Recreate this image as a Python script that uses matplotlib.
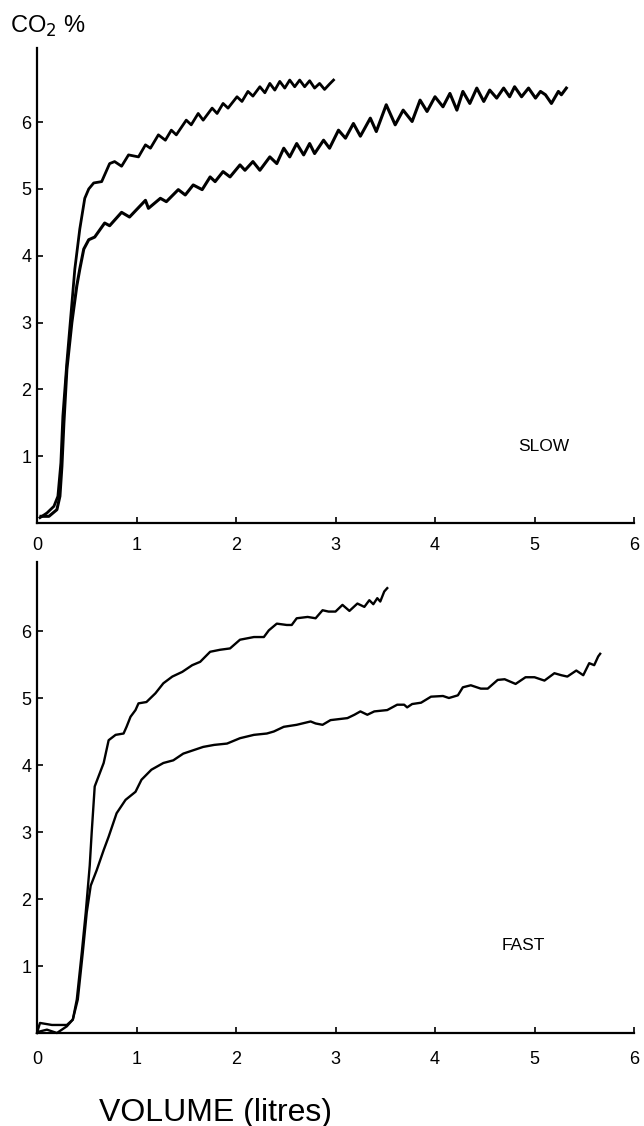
import matplotlib
matplotlib.use("Agg")
import matplotlib.pyplot as plt

plt.rcParams['font.family'] = ['Liberation Sans', 'DejaVu Sans']

# SLOW panel, upper (shorter) trace
slow_a_x = [0.03, 0.10, 0.17, 0.21, 0.24, 0.26, 0.30, 0.34, 0.38, 0.43, 0.48, 0.52, 0.57, 0.65,
            0.73, 0.78, 0.85, 0.92, 1.02, 1.09, 1.14, 1.22, 1.29, 1.35, 1.40, 1.50, 1.55, 1.62,
            1.67, 1.76, 1.81, 1.87, 1.92, 2.01, 2.06, 2.12, 2.17, 2.24, 2.29, 2.34, 2.39, 2.44,
            2.49, 2.54, 2.59, 2.64, 2.69, 2.74, 2.79, 2.84, 2.89, 2.94, 2.98]
slow_a_y = [0.08, 0.15, 0.25, 0.40, 0.90, 1.60, 2.40, 3.10, 3.80, 4.40, 4.86, 5.00, 5.09, 5.11,
            5.38, 5.41, 5.34, 5.51, 5.48, 5.66, 5.61, 5.81, 5.73, 5.88, 5.81, 6.03, 5.96, 6.13,
            6.03, 6.21, 6.13, 6.28, 6.21, 6.38, 6.31, 6.46, 6.39, 6.53, 6.44, 6.58, 6.48, 6.61,
            6.51, 6.63, 6.53, 6.63, 6.53, 6.62, 6.51, 6.58, 6.49, 6.57, 6.63]

# SLOW panel, lower (longer) trace
slow_b_x = [0.04, 0.12, 0.20, 0.23, 0.25, 0.27, 0.30, 0.35, 0.40, 0.43, 0.47, 0.52, 0.58, 0.68,
            0.73, 0.85, 0.93, 1.09, 1.12, 1.24, 1.30, 1.42, 1.49, 1.57, 1.66, 1.74, 1.79, 1.87,
            1.94, 2.04, 2.09, 2.17, 2.24, 2.34, 2.41, 2.48, 2.54, 2.61, 2.68, 2.74, 2.79, 2.88,
            2.94, 3.03, 3.10, 3.18, 3.25, 3.35, 3.41, 3.51, 3.60, 3.68, 3.77, 3.85, 3.92, 4.00,
            4.08, 4.15, 4.22, 4.28, 4.35, 4.42, 4.49, 4.55, 4.62, 4.69, 4.75, 4.80, 4.87, 4.94,
            5.01, 5.06, 5.11, 5.17, 5.24, 5.27, 5.32]
slow_b_y = [0.10, 0.10, 0.20, 0.40, 0.85, 1.50, 2.30, 3.00, 3.55, 3.80, 4.10, 4.24, 4.28, 4.49,
            4.45, 4.65, 4.58, 4.83, 4.71, 4.86, 4.81, 4.99, 4.91, 5.06, 4.99, 5.18, 5.11, 5.26,
            5.18, 5.36, 5.28, 5.41, 5.28, 5.48, 5.38, 5.61, 5.48, 5.68, 5.51, 5.68, 5.53, 5.73,
            5.61, 5.88, 5.76, 5.98, 5.79, 6.06, 5.86, 6.26, 5.96, 6.18, 6.01, 6.33, 6.16, 6.38,
            6.23, 6.43, 6.18, 6.46, 6.28, 6.51, 6.31, 6.48, 6.36, 6.51, 6.38, 6.53, 6.38, 6.51,
            6.36, 6.46, 6.41, 6.28, 6.46, 6.41, 6.51]

# FAST panel, upper (shorter) trace
fast_a_x = [0.00, 0.03, 0.15, 0.30, 0.36, 0.40, 0.45, 0.49, 0.53, 0.55, 0.58, 0.67, 0.72, 0.79,
            0.87, 0.90, 0.94, 0.99, 1.02, 1.10, 1.19, 1.27, 1.36, 1.46, 1.56, 1.64, 1.74, 1.84,
            1.94, 2.04, 2.18, 2.28, 2.33, 2.41, 2.51, 2.56, 2.61, 2.72, 2.80, 2.87, 2.93, 3.00,
            3.07, 3.14, 3.22, 3.29, 3.34, 3.38, 3.42, 3.45, 3.49, 3.52]
fast_a_y = [0.00, 0.15, 0.12, 0.12, 0.20, 0.50, 1.20, 1.80, 2.50, 3.00, 3.68, 4.03, 4.37, 4.45,
            4.47, 4.57, 4.72, 4.82, 4.92, 4.94, 5.07, 5.22, 5.32, 5.39, 5.49, 5.54, 5.69, 5.72,
            5.74, 5.87, 5.91, 5.91, 6.01, 6.11, 6.09, 6.09, 6.19, 6.21, 6.19, 6.31, 6.29, 6.29,
            6.39, 6.30, 6.41, 6.36, 6.46, 6.40, 6.49, 6.44, 6.59, 6.64]

# FAST panel, lower (longer) trace
fast_b_x = [0.02, 0.10, 0.20, 0.30, 0.36, 0.41, 0.46, 0.50, 0.54, 0.60, 0.67, 0.72, 0.80, 0.89,
            0.99, 1.05, 1.15, 1.27, 1.37, 1.47, 1.57, 1.67, 1.78, 1.91, 2.04, 2.18, 2.31, 2.38,
            2.48, 2.61, 2.75, 2.80, 2.87, 2.95, 3.12, 3.19, 3.25, 3.32, 3.39, 3.52, 3.62, 3.69,
            3.72, 3.77, 3.86, 3.96, 4.08, 4.14, 4.23, 4.28, 4.36, 4.46, 4.53, 4.63, 4.70, 4.81,
            4.91, 5.00, 5.10, 5.20, 5.27, 5.33, 5.42, 5.49, 5.55, 5.60, 5.64, 5.66]
fast_b_y = [0.02, 0.05, 0.00, 0.10, 0.20, 0.50, 1.20, 1.80, 2.20, 2.43, 2.73, 2.93, 3.28, 3.48,
            3.60, 3.78, 3.93, 4.03, 4.07, 4.17, 4.22, 4.27, 4.30, 4.32, 4.40, 4.45, 4.47, 4.50,
            4.57, 4.60, 4.65, 4.62, 4.60, 4.67, 4.70, 4.75, 4.80, 4.75, 4.80, 4.82, 4.90, 4.90,
            4.86, 4.91, 4.93, 5.02, 5.03, 5.00, 5.04, 5.16, 5.19, 5.14, 5.14, 5.27, 5.28, 5.21,
            5.31, 5.31, 5.26, 5.37, 5.34, 5.32, 5.41, 5.34, 5.52, 5.49, 5.62, 5.66]

x_ticks = [0, 1, 2, 3, 4, 5, 6]
y_ticks = [1, 2, 3, 4, 5, 6]

fig = plt.figure(figsize=(6.44, 11.26), dpi=100)
ax1 = fig.add_axes([37 / 644, 1 - 523 / 1126, 597 / 644, 475 / 1126])
ax2 = fig.add_axes([37 / 644, 1 - 1033 / 1126, 597 / 644, 471 / 1126])


def style(ax, ytop, pad):
    ax.set_xlim(0, 6)
    ax.set_ylim(0, ytop)
    for s in ['top', 'right']:
        ax.spines[s].set_visible(False)
    for s in ['left', 'bottom']:
        ax.spines[s].set_linewidth(1.6)
    ax.set_xticks(x_ticks)
    ax.set_yticks(y_ticks)
    ax.tick_params(axis='both', direction='in', length=4, width=1.2, labelsize=13)
    ax.tick_params(axis='x', pad=pad)
    ax.tick_params(axis='y', pad=4)


style(ax1, 7.11, 10)
style(ax2, 7.03, 13)

ax1.plot(slow_a_x, slow_a_y, color='black', lw=2.0, solid_joinstyle='round', clip_on=False)
ax1.plot(slow_b_x, slow_b_y, color='black', lw=2.2, solid_joinstyle='round', clip_on=False)
ax2.plot(fast_a_x, fast_a_y, color='black', lw=1.7, solid_joinstyle='round', clip_on=False)
ax2.plot(fast_b_x, fast_b_y, color='black', lw=1.7, solid_joinstyle='round', clip_on=False)

ax1.text(5.09, 1.14, 'SLOW', fontsize=12.5, ha='center', va='center')
ax2.text(4.89, 1.31, 'FAST', fontsize=12.5, ha='center', va='center')

fig.text(10 / 644, 1 - 26 / 1126, 'CO$_2$ %', fontsize=17, ha='left', va='center')
fig.text(332 / 644, 1 - 1121 / 1126, 'VOLUME (litres)', fontsize=23, ha='right', va='baseline')

fig.savefig('out.png', dpi=100)
